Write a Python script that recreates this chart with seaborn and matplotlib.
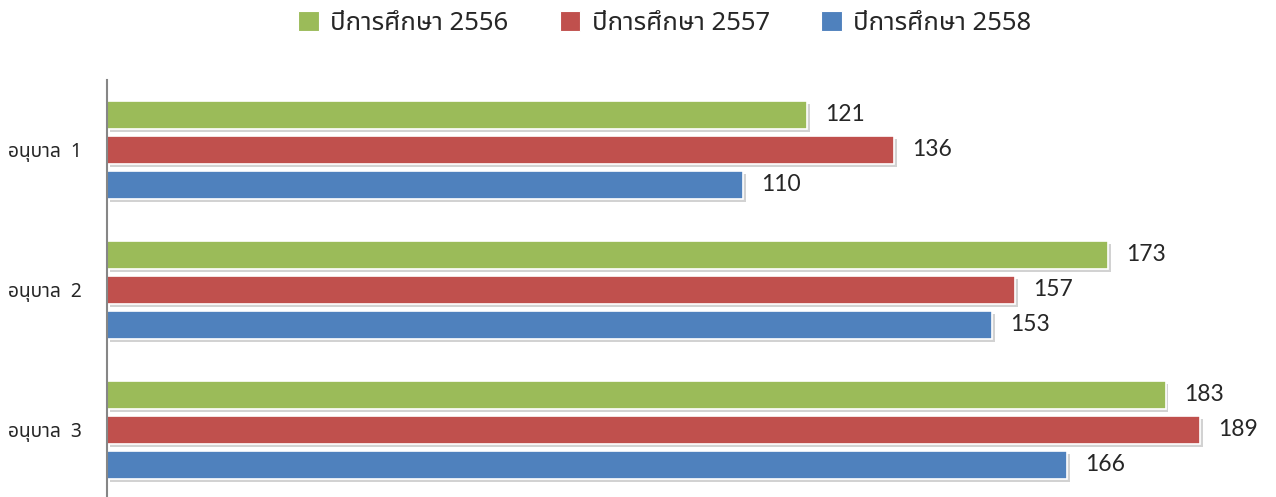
import numpy as np
import pandas as pd
import matplotlib
matplotlib.use("Agg")
import matplotlib.pyplot as plt
import matplotlib.patheffects as pe
from matplotlib.patches import Patch
import seaborn as sns

levels = ["อนุบาล  1", "อนุบาล  2", "อนุบาล  3"]
years = ["ปีการศึกษา 2556", "ปีการศึกษา 2557", "ปีการศึกษา 2558"]
y2556 = [121, 173, 183]
y2557 = [136, 157, 189]
y2558 = [110, 153, 166]
colors = ["#9BBB59", "#C0504D", "#4F81BD"]

df = pd.DataFrame({
    "level": levels * 3,
    "year": [years[0]] * 3 + [years[1]] * 3 + [years[2]] * 3,
    "value": y2556 + y2557 + y2558,
})

sns.set_style("white")
plt.rcParams['font.family'] = ["Noto Sans Thai", "DejaVu Sans"]

fig = plt.figure(figsize=(12.76, 4.97), dpi=100)
ax = fig.add_axes([107 / 1276, 0, (1264 - 107) / 1276, (497 - 80) / 497])

sns.barplot(data=df, y="level", x="value", hue="year", palette=colors,
            orient="h", width=0.75, gap=0.2, ax=ax, legend=False, saturation=1,
            edgecolor="white", linewidth=1.2)

# soft drop shadow like the office chart
for bar in ax.patches:
    bar.set_path_effects([pe.SimplePatchShadow(offset=(2, -2.5), shadow_rgbFace="#7f7f7f", alpha=0.35),
                          pe.Normal()])

for cont in ax.containers:
    ax.bar_label(cont, padding=13, fontsize=16.5, family=["Lato", "DejaVu Sans"])

ax.set_xlim(0, 200)
ax.set_ylim(2.479, -0.5)
ax.set_xlabel("")
ax.set_ylabel("")
ax.set_xticks([])
for s in ["top", "right", "bottom"]:
    ax.spines[s].set_visible(False)
ax.spines["left"].set_color("#868686")
ax.spines["left"].set_linewidth(1.5)
ax.tick_params(axis="y", length=0, pad=18, labelsize=13.8)

handles = [Patch(facecolor=c, edgecolor="white", linewidth=0.8) for c in colors]
fig.legend(handles, years, loc="upper center", bbox_to_anchor=(0.521, 1.025), ncol=3,
           frameon=False, fontsize=18.5, handlelength=0.8, handleheight=0.8,
           columnspacing=2.0, handletextpad=0.45)

fig.savefig("out.png", dpi=100)
